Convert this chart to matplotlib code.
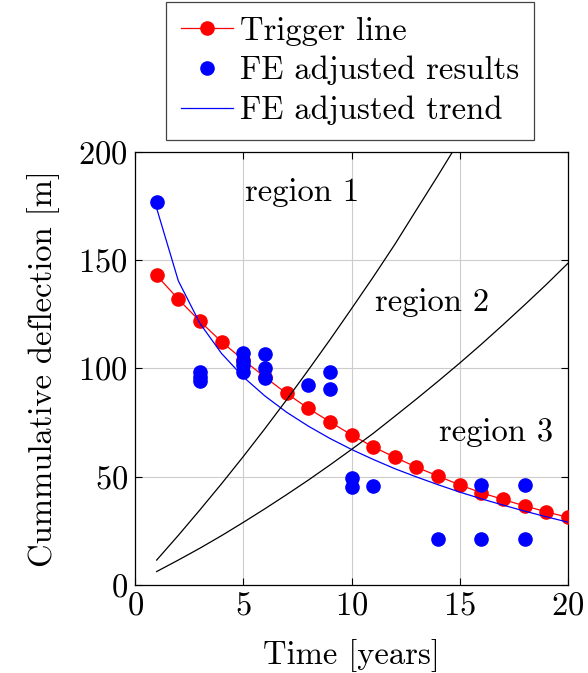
import matplotlib
matplotlib.use("Agg")
import matplotlib.pyplot as plt

plt.rcParams['font.family'] = 'cmr10'
plt.rcParams['mathtext.fontset'] = 'cm'
plt.rcParams['axes.formatter.use_mathtext'] = True

# trigger line, one point per year
trigger_years = list(range(1, 21))
trigger_vals = [143, 132, 121.8, 112.3, 104, 96, 88.5, 81.6, 75.4, 69.3,
                63.8, 59.0, 54.4, 50.3, 46.2, 42.6, 39.5, 36.5, 33.8, 31.2]

# FE adjusted results
fe_years = [1, 3, 3, 3, 5, 5, 5, 5, 6, 6, 6, 8, 9, 9, 10, 10, 11, 14, 16, 16, 18, 18]
fe_vals = [177, 98.5, 96.2, 94, 107.3, 103.5, 101.5, 98.2, 106.5, 100, 95.5,
           92.3, 98.3, 90.4, 49.5, 45.3, 45.5, 21.2, 46.4, 21.2, 46.4, 21.2]

# FE adjusted trend
trend_years = list(range(1, 21))
trend_vals = [174, 140.5, 120.8, 106.9, 96.1, 87.3, 79.8, 73.4, 67.7, 62.6,
              58.0, 53.7, 49.9, 46.3, 42.9, 39.8, 36.9, 34.1, 31.5, 29.0]

# region boundaries
bound1_years = list(range(1, 16))
bound1_vals = [11.5, 22.9, 34.7, 46.8, 59.3, 72.2, 85.5, 99.2, 113.2, 127.6,
               142.2, 157.3, 173.3, 189.2, 205.5]
bound2_years = list(range(1, 21))
bound2_vals = [6.2, 11.5, 17.0, 22.8, 28.9, 35.2, 41.7, 48.4, 55.4, 62.6,
               70.0, 77.9, 85.9, 94.1, 102.5, 111.2, 120.2, 129.4, 138.8, 148.6]

regions = ["region 1", "region 2", "region 3"]
region_pos = [(7.7, 181.5), (13.7, 130.5), (16.7, 70.5)]

fs = 23.5

fig = plt.figure(figsize=(5.88, 6.73), dpi=100)
ax = fig.add_axes([0.2296, 0.1308, 0.7364, 0.6434])

ax.plot(trigger_years, trigger_vals, color='red', lw=0.9, marker='o',
        markersize=9.5, label='Trigger line', zorder=3)
ax.plot(fe_years, fe_vals, ls='none', color='blue', marker='o',
        markersize=9.5, label='FE adjusted results', zorder=4)
ax.plot(trend_years, trend_vals, color='blue', lw=0.9,
        label='FE adjusted trend', zorder=5)
ax.plot(bound1_years, bound1_vals, color='black', lw=0.9, zorder=5)
ax.plot(bound2_years, bound2_vals, color='black', lw=0.9, zorder=5)

for txt, (x, y) in zip(regions, region_pos):
    ax.text(x, y, txt, fontsize=fs, ha='center', va='center')

ax.set_xlim(0, 20)
ax.set_ylim(0, 200)
ax.set_xticks([0, 5, 10, 15, 20])
ax.set_yticks([0, 50, 100, 150, 200])
ax.grid(True, color='#cccccc', lw=0.8)
ax.set_axisbelow(True)
ax.tick_params(direction='in', top=True, right=True, length=5,
               labelsize=fs, width=0.8, pad=5)
for s in ax.spines.values():
    s.set_linewidth(0.9)

ax.set_xlabel('Time [years]', fontsize=fs, labelpad=13)
ax.set_ylabel('Cummulative deflection [m]', fontsize=fs, labelpad=13)

leg = fig.legend(loc='upper center', bbox_to_anchor=(0.595, 0.997),
                 fontsize=fs, fancybox=False, framealpha=1,
                 edgecolor='#444444', handlelength=1.6, borderpad=0.45,
                 labelspacing=0.31, handletextpad=0.2, borderaxespad=0.0)
leg.get_frame().set_linewidth(0.9)

fig.savefig('out.png', dpi=100)
